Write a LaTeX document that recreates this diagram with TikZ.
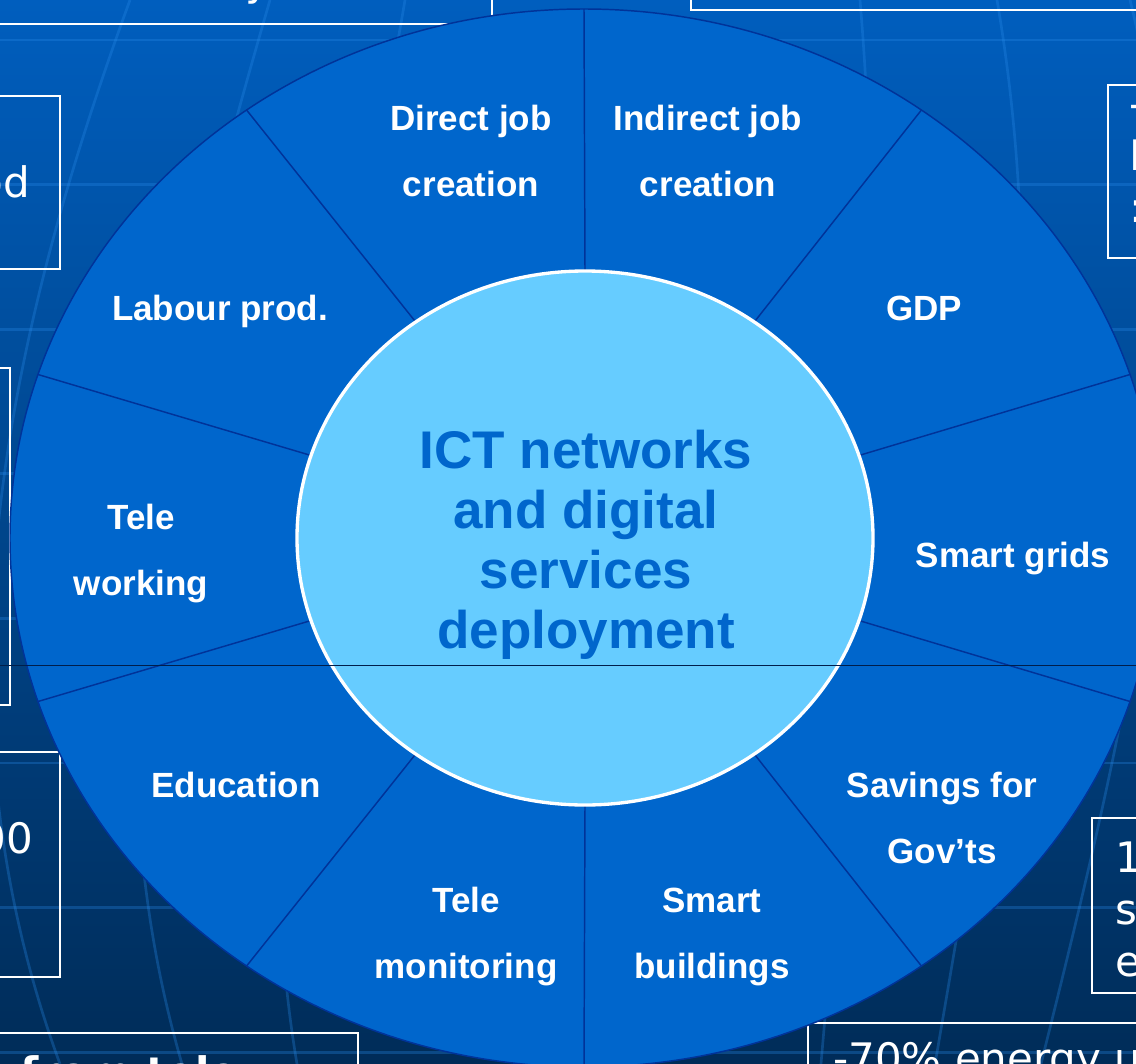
\documentclass[tikz,border=0pt]{standalone}
\usepackage{fontspec}
\setmainfont{Liberation Sans}
\newfontfamily\boxfont{DejaVu Sans}
\usepackage{tikz}
\usetikzlibrary{calc}

\definecolor{bgtop}{RGB}{0,94,190}
\definecolor{bgbot}{RGB}{0,44,88}
\definecolor{sector}{RGB}{0,102,204}
\definecolor{divblue}{RGB}{0,51,153}
\definecolor{hubblue}{RGB}{102,204,255}
\definecolor{gridblue}{RGB}{40,140,235}
\definecolor{rulecol}{RGB}{0,30,75}

\tikzset{
  seglabel/.style={text=white, font=\fontsize{26.25}{49.5}\selectfont\bfseries, align=center, inner sep=0pt},
  hubtext/.style={text=sector, font=\fontsize{39.75}{45}\selectfont\bfseries, align=center, inner sep=0pt},
  boxtext/.style={text=white, font=\boxfont\fontsize{31.5}{39}\selectfont, inner sep=0pt},
  infobox/.style={draw=white, line width=2.2pt},
  divider/.style={draw=divblue, line width=1.1pt},
  gridline/.style={draw=gridblue, line width=2pt, opacity=0.3},
}

\begin{document}
\begin{tikzpicture}[x=0.75pt,y=-0.75pt]
      \useasboundingbox (0,0) rectangle (1136,1064);
      \clip (0,0) rectangle (1136,1064);

      % background
      \shade [top color=bgtop, bottom color=bgbot] (0,0) rectangle (1136,1064);
      \foreach \k in {0,...,7}
        \draw [gridline] (0,{40+144.6*\k}) -- (1136,{40+144.6*\k});
      \draw [gridline] (130,0) .. controls (0,355) and (-70,710) .. (60,1064);
      \draw [gridline] (270,0) .. controls (167,355) and (79,710) .. (182,1064);
      \draw [gridline] (405,0) .. controls (345,355) and (237,710) .. (297,1064);
      \draw [gridline] (860,0) .. controls (890,355) and (851,710) .. (821,1064);
      \draw [gridline] (997,0) .. controls (1058,355) and (996,710) .. (935,1064);
      \draw [gridline] (1130,0) .. controls (1218,355) and (1129,710) .. (1041,1064);

      % boxes around the wheel
      \draw [infobox] (-20,-100) rectangle (492,24);
      \draw [infobox] (691,-100) rectangle (1200,10);
      \draw [infobox] (-20,96) rectangle (60,269);
      \draw [infobox] (1108,85) rectangle (1200,258);
      \draw [infobox] (-20,368) rectangle (10,705);
      \draw [infobox] (-20,752) rectangle (60,977);
      \draw [infobox] (-20,1033) rectangle (358,1200);
      \draw [infobox] (1092,818) rectangle (1200,993);
      \draw [infobox] (808,1023) rectangle (1200,1200);

      \node [boxtext, anchor=base west] (boxA) at (245,-5) {y};
      \node [boxtext, anchor=base east] (boxC) at (30,197) {od};
      \node [boxtext, anchor=north west, align=left, font=\boxfont\fontsize{31.5}{39}\selectfont] (boxD) at (1129,105) {-\\I\\:};
      \node [boxtext, anchor=base east] (boxF) at (33,853) {00};
      \node [boxtext, anchor=base west, font=\boxfont\fontsize{31.5}{39}\selectfont\bfseries] (boxG) at (20,1087) {from tele};
      \node [boxtext, anchor=north west, align=left] (boxH) at (1115,842) {1\\s\\e};
      \node [boxtext, anchor=base west] (boxI) at (833,1073) {-70\% energy use};

      % the wheel
      \draw [divider, fill=sector] (584,538) ellipse [x radius=574, y radius=529];
      \foreach \ang in {90,54,18,-18,-54,-90,-126,-162,-198,-234}
        \draw [divider] ({585+288*cos(\ang)},{538-267*sin(\ang)}) -- ({584+574*cos(\ang)},{538-529*sin(\ang)});
      \draw [draw=white, line width=2.5pt, fill=hubblue] (585,538) ellipse [x radius=288, y radius=267];

      % sector labels
      \node [seglabel] (direct) at (471,151) {Direct job\\creation};
      \node [seglabel] (indirect) at (708,151) {Indirect job\\creation};
      \node [seglabel, anchor=base] (labour) at (220,320) {Labour prod.};
      \node [seglabel, anchor=base] (gdp) at (924,320) {GDP};
      \node [seglabel] (telework) at (141,554) {Tele\\working};
      \node [seglabel, anchor=base] (grids) at (1013,567) {Smart grids};
      \node [seglabel, anchor=base] (education) at (236,797) {Education};
      \node [seglabel] (savings) at (942,818) {Savings for\\Gov’ts};
      \node [seglabel] (telemon) at (466,937) {Tele\\monitoring};
      \node [seglabel] (buildings) at (712,937) {Smart\\buildings};
      \node [hubtext] (hub) at (586,545) {ICT networks\\and digital\\services\\deployment};

      \draw [rulecol, line width=0.75pt] (0,665) -- (1136,665);
\end{tikzpicture}
\end{document}
